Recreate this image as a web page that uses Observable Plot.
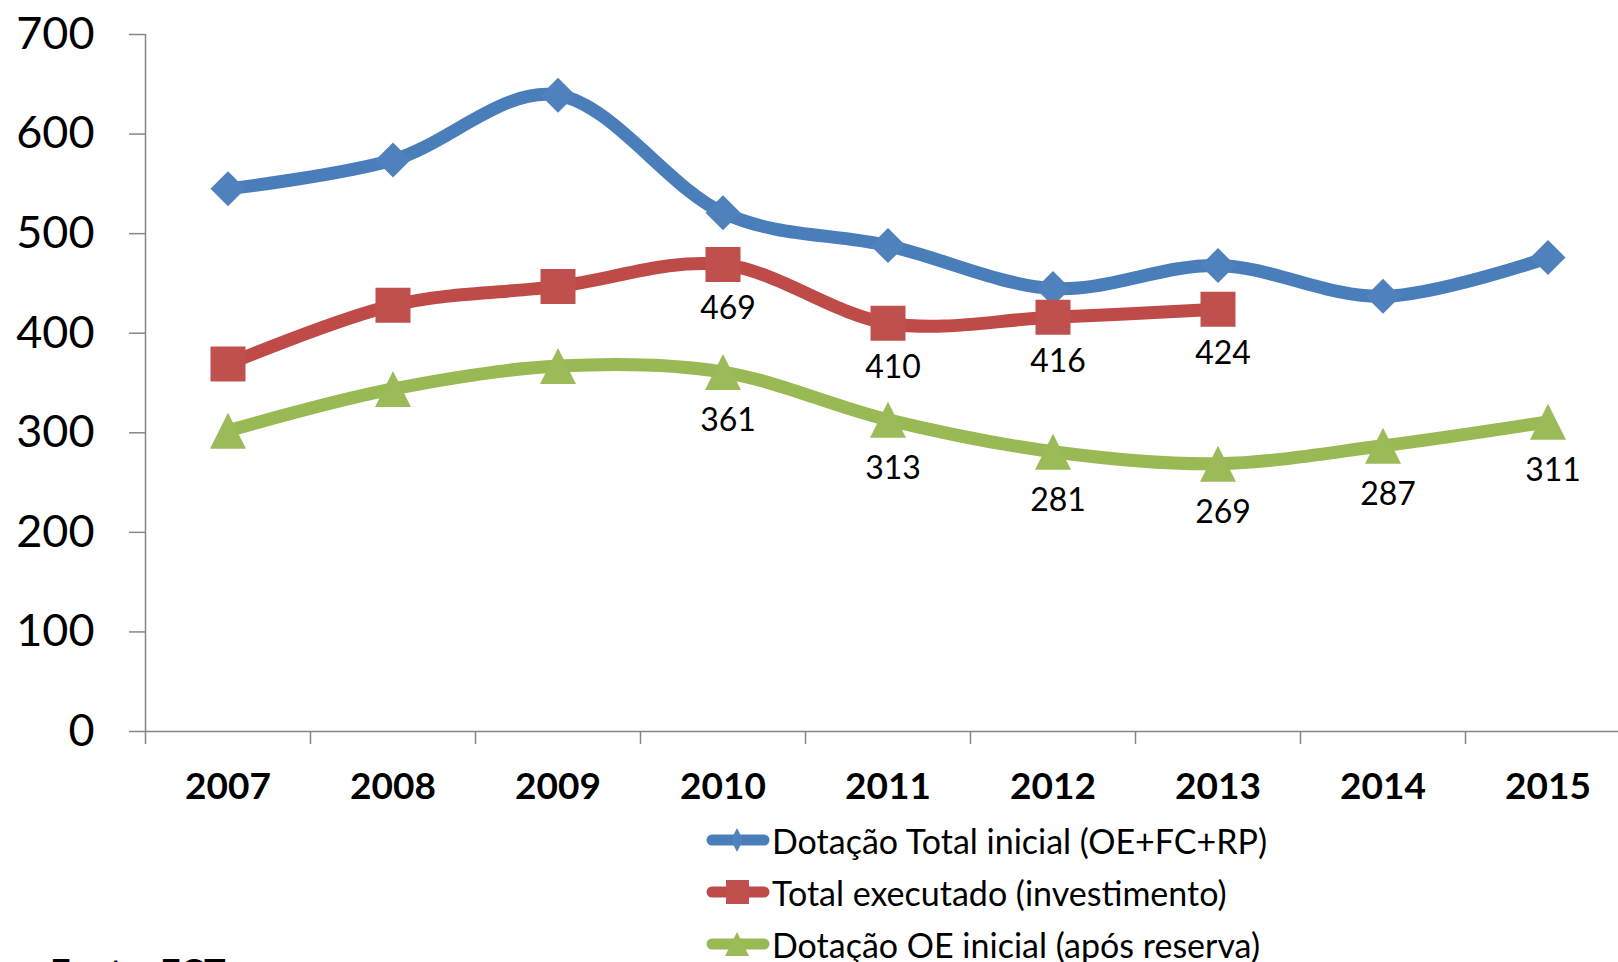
<!DOCTYPE html>
<html>
<head>
<meta charset="utf-8">
<script src="https://cdn.jsdelivr.net/npm/d3@7"></script>
<script src="https://cdn.jsdelivr.net/npm/@observablehq/plot@0.6"></script>
<style>
  html, body { margin: 0; padding: 0; background: #fff; overflow: hidden; }
  #wrap { position: relative; width: 1618px; height: 962px; font-family: Lato, "Open Sans", sans-serif; }
  #chart { position: absolute; left: 0; top: 0; }
  .leg { position: absolute; left: 706px; display: flex; align-items: center; font-size: 34px; color: #000; white-space: nowrap; height: 40px; }
  .leg svg { display: block; margin-right: 2px; }
  #fonte { position: absolute; left: 50px; top: 953px; font-size: 36px; font-weight: bold; line-height: 1; }
</style>
</head>
<body>
<div id="wrap">
  <div id="chart"></div>
  <div id="legend"></div>
  <div id="fonte">Fonte: FCT</div>
</div>
<script>
// ---- data ----
const years = [2007, 2008, 2009, 2010, 2011, 2012, 2013, 2014, 2015];
const dotacaoTotal = [545, 574, 639, 521, 488, 445, 468, 437, 476];
const totalExecutado = [369, 428, 447, 469, 410, 416, 424];
const dotacaoOE = [302, 344, 367, 361, 313, 281, 269, 287, 311];
const executadoLabelYears = [2010, 2011, 2012, 2013];
const oeLabelYears = [2010, 2011, 2012, 2013, 2014, 2015];
const seriesNames = [
  "Dotação Total inicial (OE+FC+RP)",
  "Total executado (investimento)",
  "Dotação OE inicial (após reserva)"
];
const yTicks = [0, 100, 200, 300, 400, 500, 600, 700];

// ---- styles ----
const lineColors = ["#4A7EBB", "#BE4B48", "#98B954"];
const markColors = ["#4F81BD", "#C0504D", "#9BBB59"];
const axisGrey = "#868686";

const toRows = (vals) => vals.map((v, i) => ({year: years[i], value: v}));
const blue = toRows(dotacaoTotal);
const red = toRows(totalExecutado);
const green = toRows(dotacaoOE);
const redLabels = red.filter(d => executadoLabelYears.includes(d.year));
const greenLabels = green.filter(d => oeLabelYears.includes(d.year));
const boundaries = years.map(y => y - 0.5).concat([years[years.length - 1] + 0.5]);

// custom symbols (size = PI * r^2)
const diamond = {draw(c, s) { const h = Math.sqrt(s / Math.PI); c.moveTo(0, -h); c.lineTo(h, 0); c.lineTo(0, h); c.lineTo(-h, 0); c.closePath(); }};
const square = {draw(c, s) { const h = Math.sqrt(s / Math.PI); c.rect(-h, -h, 2 * h, 2 * h); }};
const triangle = {draw(c, s) { const h = Math.sqrt(s / Math.PI); c.moveTo(0, -h); c.lineTo(h, h); c.lineTo(-h, h); c.closePath(); }};

const lineOpts = (color) => ({x: "year", y: "value", stroke: color, strokeWidth: 13, curve: "cardinal", strokeLinecap: "round", strokeLinejoin: "round"});

const chart = Plot.plot({
  width: 1618,
  height: 815,
  marginLeft: 145,
  marginRight: 0,
  marginTop: 34,
  marginBottom: 84,
  style: {fontFamily: "Lato, 'Open Sans', sans-serif", background: "white"},
  x: {type: "linear", domain: [2006.5, 2015.5], range: [145, 1630], axis: null, label: null},
  y: {type: "linear", domain: [0, 700], axis: null, label: null},
  marks: [
    Plot.ruleX([2006.5], {stroke: axisGrey, strokeWidth: 1.5}),
    Plot.ruleY([0], {stroke: axisGrey, strokeWidth: 1.5}),
    Plot.axisY(yTicks, {label: null, tickSize: 16, tickPadding: 35, fontSize: 45, stroke: axisGrey, strokeWidth: 1.5, fill: "#000", tickFormat: d => String(d)}),
    Plot.axisX(boundaries, {label: null, tickSize: 13, tickPadding: 0, stroke: axisGrey, strokeWidth: 1.5, tickFormat: () => ""}),
    Plot.axisX(years, {label: null, tickSize: 0, tickPadding: 41, fontSize: 37, fontWeight: "bold", fill: "#000", tickFormat: d => String(d)}),
    Plot.line(blue, lineOpts(lineColors[0])),
    Plot.line(red, lineOpts(lineColors[1])),
    Plot.line(green, lineOpts(lineColors[2])),
    Plot.dot(blue, {x: "year", y: "value", symbol: diamond, r: 17.5, fill: markColors[0], stroke: "none"}),
    Plot.dot(red, {x: "year", y: "value", symbol: square, r: 17.5, fill: markColors[1], stroke: "none"}),
    Plot.dot(green, {x: "year", y: "value", symbol: triangle, r: 18, fill: markColors[2], stroke: "none"}),
    Plot.text(redLabels, {x: "year", y: "value", text: d => String(d.value), dy: 44, dx: 5, fontSize: 32, fill: "#000"}),
    Plot.text(greenLabels, {x: "year", y: "value", text: d => String(d.value), dy: 49, dx: 5, fontSize: 32, fill: "#000"})
  ]
});
document.getElementById("chart").appendChild(chart);

// ---- legend (HTML below the plot area) ----
const legendTops = [820, 872, 924];
const legendShapes = [
  (c) => `<polygon points="31,0 37,12 31,24 25,12" fill="${c}"/>`,
  (c) => `<rect x="20" y="0" width="23" height="24" fill="${c}"/>`,
  (c) => `<polygon points="31,0 43,24 19,24" fill="${c}"/>`
];
const legend = document.getElementById("legend");
seriesNames.forEach((name, i) => {
  const row = document.createElement("div");
  row.className = "leg";
  row.style.top = legendTops[i] + "px";
  row.innerHTML = `<svg width="64" height="24" viewBox="0 0 64 24"><line x1="6" y1="12" x2="58" y2="12" stroke="${lineColors[i]}" stroke-width="11" stroke-linecap="round"/>${legendShapes[i](markColors[i])}</svg><span>${name}</span>`;
  legend.appendChild(row);
});
</script>
</body>
</html>
